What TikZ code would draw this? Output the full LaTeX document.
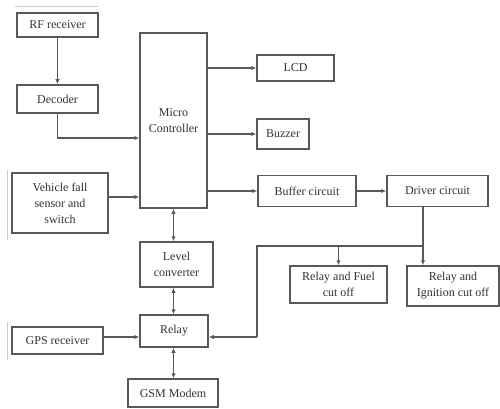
\documentclass[tikz,border=0pt]{standalone}
\usepackage{fontspec}
\setmainfont{Liberation Serif}
\usetikzlibrary{arrows.meta}

\begin{document}
\begin{tikzpicture}[x=1pt, y=-1pt]
\tikzset{boite/.style={draw=black!65, line width=1.5pt, fill=white, text=black!80, align=center, inner sep=1pt, font=\fontsize{12}{16}\selectfont},
fleche/.style={draw=black!65, line width=1.4pt, -{Latex[length=5pt,width=4.5pt]}},
double/.style={draw=black!65, line width=1.4pt, {Latex[length=5pt,width=4.5pt]}-{Latex[length=5pt,width=4.5pt]}},
trait/.style={draw=black!65, line width=1.4pt},
trace/.style={draw=black!20, line width=1pt}}
\useasboundingbox (0,0) rectangle (500,409);
\draw[trace] (15,7) -- (98,7);
\draw[trace] (7,170) -- (7,240);
\draw[trace] (7,322) -- (7,360);
\node[boite, minimum width=81pt, minimum height=24pt] (RF) at (57.5,25) {RF receiver};
\node[boite, minimum width=81pt, minimum height=28pt] (DEC) at (57.5,99) {Decoder};
\node[boite, minimum width=67pt, minimum height=175pt] (MC) at (173.5,120.5) {Micro\\Controller};
\node[boite, minimum width=96pt, minimum height=60pt] (VEH) at (60,203) {Vehicle fall\\sensor and\\switch};
\node[boite, minimum width=77pt, minimum height=26pt] (LCD) at (295.5,68) {LCD};
\node[boite, minimum width=52pt, minimum height=30pt] (BUZ) at (283,134) {Buzzer};
\node[boite, minimum width=98pt, minimum height=31pt] (BUF) at (307,191) {Buffer circuit};
\node[boite, minimum width=101pt, minimum height=31pt] (DRV) at (437.5,191) {Driver circuit};
\node[boite, minimum width=97pt, minimum height=37pt] (FUEL) at (338.5,284.5) {Relay and Fuel\\cut off};
\node[boite, minimum width=92pt, minimum height=40pt] (IGN) at (453,286) {Relay and\\Ignition cut off};
\node[boite, minimum width=73pt, minimum height=45pt] (LVL) at (176.5,264.5) {Level\\converter};
\node[boite, minimum width=68pt, minimum height=32pt] (REL) at (174,331) {Relay};
\node[boite, minimum width=91pt, minimum height=27pt] (GPS) at (57.5,340.5) {GPS receiver};
\node[boite, minimum width=90pt, minimum height=28pt] (GSM) at (173,393) {GSM Modem};
\coordinate (JD) at (423,246);
\coordinate (JG) at (257,246);
\coordinate (JB) at (257,337);
\draw[fleche] (RF) -- (DEC);
\draw[fleche] (DEC.south) |- ([yshift=-17.5pt]MC.west);
\draw[fleche] ([yshift=6pt]VEH.east) coordinate (V) -- (V -| MC.west);
\draw[fleche] (LCD.west -| MC.east) -- (LCD.west);
\draw[fleche] (BUZ.west -| MC.east) -- (BUZ.west);
\draw[fleche] (BUF.west -| MC.east) -- (BUF.west);
\draw[fleche] (BUF) -- (DRV);
\draw[trait] (JD |- DRV.south) -- (JD) -- (JG) -- (JB);
\draw[fleche] (JD) -- (JD |- IGN.north);
\draw[fleche] (FUEL.north |- JD) -- (FUEL.north);
\draw[fleche] (JB) -- (JB -| REL.east);
\draw[fleche] (GPS.east |- JB) -- (JB -| REL.west);
\draw[double] (MC.south) -- (MC.south |- LVL.north);
\draw[double] (MC.south |- LVL.south) -- (MC.south |- REL.north);
\draw[double] (MC.south |- REL.south) -- (MC.south |- GSM.north);
\end{tikzpicture}
\end{document}
